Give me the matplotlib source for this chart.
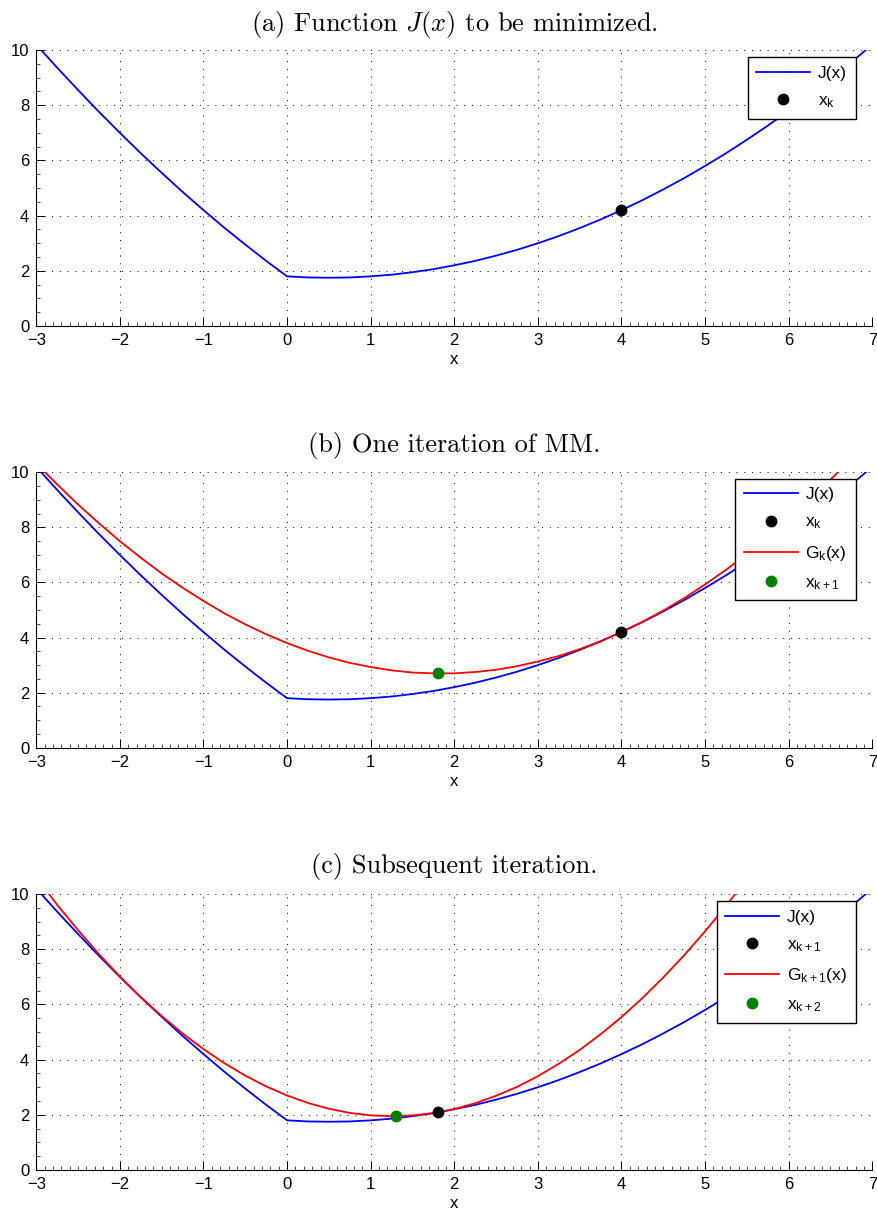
#!/usr/bin/env python3
"""Three-panel MM (majorization-minimization) illustration."""

import matplotlib
matplotlib.use("Agg")
import matplotlib.pyplot as plt
from matplotlib.ticker import MultipleLocator

plt.rcParams['font.family'] = ['Liberation Sans', 'DejaVu Sans']
plt.rcParams['mathtext.default'] = 'regular'

# sample positions (every 0.25 on the x axis)
x_grid = [-3.0, -2.75, -2.5, -2.25, -2.0, -1.75, -1.5, -1.25, -1.0, -0.75, -0.5, -0.25,
          0.0, 0.25, 0.5, 0.75, 1.0, 1.25, 1.5, 1.75, 2.0, 2.25, 2.5, 2.75, 3.0,
          3.25, 3.5, 3.75, 4.0, 4.25, 4.5, 4.75, 5.0, 5.25, 5.5, 5.75, 6.0,
          6.25, 6.5, 6.75, 7.0]

# J(x), the function to be minimized
j_vals = [10.2, 9.36, 8.55, 7.76, 7.0, 6.26, 5.55, 4.86, 4.2, 3.56, 2.95, 2.36,
          1.8, 1.76, 1.75, 1.76, 1.8, 1.86, 1.95, 2.06, 2.2, 2.36, 2.55, 2.76, 3.0,
          3.26, 3.55, 3.86, 4.2, 4.56, 4.95, 5.36, 5.8, 6.26, 6.75, 7.26, 7.8,
          8.36, 8.95, 9.56, 10.2]

# G_k(x), majorizer at x_k
gk_vals = [10.33, 9.56, 8.83, 8.15, 7.5, 6.9, 6.33, 5.81, 5.33, 4.88, 4.48, 4.12,
           3.8, 3.52, 3.28, 3.08, 2.93, 2.81, 2.73, 2.70, 2.70, 2.75, 2.83, 2.96, 3.13,
           3.33, 3.58, 3.87, 4.2, 4.57, 4.98, 5.43, 5.93, 6.46, 7.03, 7.65, 8.3,
           9.0, 9.73, 10.51, 11.33]

# G_{k+1}(x), majorizer at x_{k+1} (leaves the plot after x = 5.5)
gk1_x = x_grid[:35]
gk1_vals = [10.6, 9.61, 8.69, 7.82, 7.01, 6.26, 5.58, 4.95, 4.38, 3.87, 3.42, 3.03,
            2.7, 2.43, 2.22, 2.07, 1.98, 1.95, 1.98, 2.06, 2.21, 2.42, 2.69, 3.01, 3.4,
            3.85, 4.35, 4.92, 5.54, 6.23, 6.98, 7.78, 8.65, 9.57, 10.55]

# iterates
xk = (4.0, 4.2)
xk1 = (1.8, 2.7)       # minimum of G_k
xk1_on_j = (1.8, 2.09)  # same point, on J
xk2 = (1.3, 1.95)

titles = [r'(a) Function $\mathit{J}(\mathit{x})$ to be minimized.',
          '(b) One iteration of MM.',
          '(c) Subsequent iteration.']

positions = [[0.0413, 0.7321, 0.9522, 0.2268],
             [0.0413, 0.3856, 0.9522, 0.2263],
             [0.0413, 0.0386, 0.9522, 0.2268]]


def style_axes(ax, title, title_pad):
    ax.set_xlim(-3, 7)
    ax.set_ylim(0, 10)
    ax.set_xticks(range(-3, 8))
    ax.set_yticks(range(0, 11, 2))
    ax.xaxis.set_minor_locator(MultipleLocator(0.1))
    ax.yaxis.set_minor_locator(MultipleLocator(0.5))
    for side in ('top', 'right'):
        ax.spines[side].set_visible(False)
    for side in ('left', 'bottom'):
        ax.spines[side].set_linewidth(0.8)
    ax.tick_params(which='major', direction='in', length=6.5, width=0.7,
                   labelsize=12, pad=5)
    ax.tick_params(which='minor', direction='in', length=3, width=0.5)
    ax.grid(True, which='major', color='k', linestyle=(0, (1, 7)), linewidth=0.7)
    ax.set_xlabel('x', fontsize=12, labelpad=3)
    ax.set_title(title, fontfamily='cmr10', math_fontfamily='cm',
                 fontsize=19, pad=title_pad)


def add_legend(ax, anchor_y):
    leg = ax.legend(loc='upper right', bbox_to_anchor=(0.980, anchor_y),
                    borderaxespad=0, fontsize=12.5, handlelength=3.1,
                    handletextpad=0.45, borderpad=0.5, labelspacing=0.7,
                    numpoints=1, fancybox=False, framealpha=1,
                    edgecolor='k')
    leg.get_frame().set_linewidth(1.0)


fig = plt.figure(figsize=(8.78, 12.17), dpi=100)

# (a)
ax = fig.add_axes(positions[0])
ax.plot(x_grid, j_vals, color='b', lw=1.3, label='J(x)')
ax.plot([xk[0]], [xk[1]], 'o', color='k', ms=7.5, label='$x_k$', zorder=4)
style_axes(ax, titles[0], 14)
add_legend(ax, 0.974)

# (b)
ax = fig.add_axes(positions[1])
ax.plot(x_grid, j_vals, color='b', lw=1.3, label='J(x)')
ax.plot([xk[0]], [xk[1]], 'o', color='k', ms=7.5, label='$x_k$', zorder=4)
ax.plot(x_grid, gk_vals, color='r', lw=1.3, label='$G_k(x)$')
ax.plot([xk1[0]], [xk1[1]], 'o', color='g', ms=7.5, label='$x_{k+1}$', zorder=4)
style_axes(ax, titles[1], 14.5)
add_legend(ax, 0.977)

# (c)
ax = fig.add_axes(positions[2])
ax.plot(x_grid, j_vals, color='b', lw=1.3, label='J(x)')
ax.plot([xk1_on_j[0]], [xk1_on_j[1]], 'o', color='k', ms=7.5, label='$x_{k+1}$', zorder=4)
ax.plot(gk1_x, gk1_vals, color='r', lw=1.3, label='$G_{k+1}(x)$')
ax.plot([xk2[0]], [xk2[1]], 'o', color='g', ms=7.5, label='$x_{k+2}$', zorder=4)
style_axes(ax, titles[2], 15)
add_legend(ax, 0.974)

fig.savefig('out.png', dpi=100)
